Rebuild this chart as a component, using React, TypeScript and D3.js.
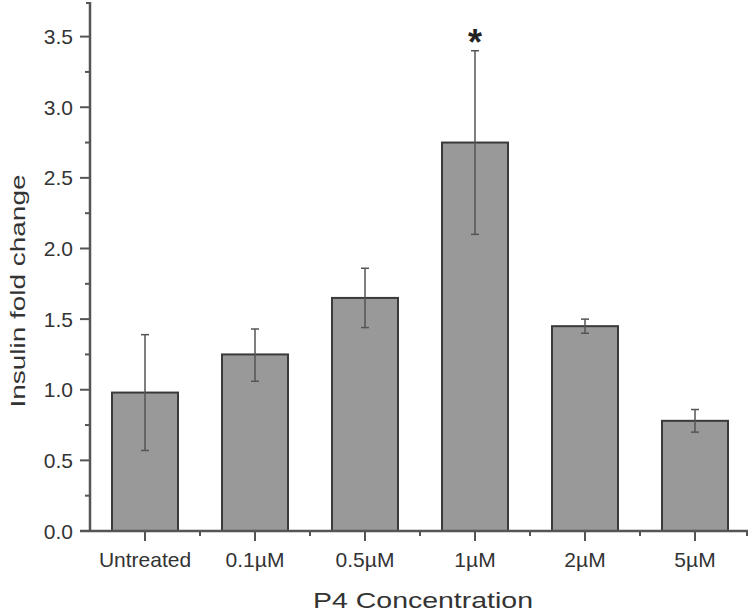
import React from "react";
import * as d3 from "d3";

const categories = ["Untreated", "0.1µM", "0.5µM", "1µM", "2µM", "5µM"];
const means = [0.98, 1.25, 1.65, 2.75, 1.45, 0.78];
const errLow = [0.57, 1.06, 1.44, 2.1, 1.4, 0.7];
const errHigh = [1.39, 1.43, 1.86, 3.4, 1.5, 0.86];
const significant = [false, false, false, true, false, false];
const yTicks = [0, 0.5, 1.0, 1.5, 2.0, 2.5, 3.0, 3.5];
const yMinorTicks = [0.25, 0.75, 1.25, 1.75, 2.25, 2.75, 3.25];

const W = 750;
const H = 612;
const left = 90;
const right = 750;
const top = 2;
const bottom = 531;
const font = "'Liberation Sans', Arial, sans-serif";

export default function App() {
  const x = d3.scaleBand<string>().domain(categories).range([left, right]).paddingInner(0).paddingOuter(0);
  const y = d3.scaleLinear().domain([0, 3.745]).range([bottom, top]);
  const bw = x.bandwidth() * 0.6;
  const axisColor = "#555";
  const textColor = "#333";
  return (
    <svg width={W} height={H} style={{ position: "absolute", left: 0, top: 0, background: "#fff" }}>
      {categories.map((c, i) => {
        const cx = x(c)! + x.bandwidth() / 2;
        return (
          <rect key={c} x={cx - bw / 2} y={y(means[i])} width={bw} height={y(0) - y(means[i])} fill="#999" stroke="#3a3a3a" strokeWidth={2} />
        );
      })}
      {categories.map((c, i) => {
        const cx = x(c)! + x.bandwidth() / 2;
        return (
          <g key={c + "e"} stroke="#555" strokeWidth={1.5}>
            <line x1={cx} x2={cx} y1={y(errLow[i])} y2={y(errHigh[i])} />
            <line x1={cx - 4} x2={cx + 4} y1={y(errLow[i])} y2={y(errLow[i])} />
            <line x1={cx - 4} x2={cx + 4} y1={y(errHigh[i])} y2={y(errHigh[i])} />
            {significant[i] && (
              <text x={cx} y={y(errHigh[i]) + 4} textAnchor="middle" fontFamily={font} fontSize={36} fontWeight="bold" fill="#222" stroke="none">
                *
              </text>
            )}
          </g>
        );
      })}
      <line x1={left} x2={left} y1={top} y2={bottom} stroke={axisColor} strokeWidth={2.5} />
      <line x1={left} x2={left - 4} y1={top + 1} y2={top + 1} stroke={axisColor} strokeWidth={2} />
      {yTicks.map((t) => (
        <g key={"y" + t}>
          <line x1={left - 10} x2={left} y1={y(t)} y2={y(t)} stroke={axisColor} strokeWidth={2} />
          <text x={left - 17} y={y(t) + 7.5} textAnchor="end" fontFamily={font} fontSize={21} fill={textColor}>
            {t.toFixed(1)}
          </text>
        </g>
      ))}
      {yMinorTicks.map((t) => (
        <line key={"ym" + t} x1={left - 5} x2={left} y1={y(t)} y2={y(t)} stroke={axisColor} strokeWidth={2} />
      ))}
      <line x1={left - 10} x2={right - 2} y1={bottom} y2={bottom} stroke={axisColor} strokeWidth={2.5} />
      {categories.map((c) => {
        const cx = x(c)! + x.bandwidth() / 2;
        return (
          <g key={"x" + c}>
            <line x1={cx} x2={cx} y1={bottom} y2={bottom + 10} stroke={axisColor} strokeWidth={2} />
            <text x={cx} y={567} textAnchor="middle" fontFamily={font} fontSize={21} fill={textColor}>
              {c}
            </text>
          </g>
        );
      })}
      {categories.slice(1).map((c) => (
        <line key={"xm" + c} x1={x(c)!} x2={x(c)!} y1={bottom} y2={bottom + 5} stroke={axisColor} strokeWidth={2} />
      ))}
      <line x1={right - 3} x2={right - 3} y1={bottom} y2={bottom + 5} stroke={axisColor} strokeWidth={2} />
      <text x={423} y={608} textAnchor="middle" fontFamily={font} fontSize={22} textLength={220} lengthAdjust="spacingAndGlyphs" fill={textColor}>
        P4 Concentration
      </text>
      <text transform={`translate(25, 291) rotate(-90)`} textAnchor="middle" fontFamily={font} fontSize={21} textLength={233} lengthAdjust="spacingAndGlyphs" fill={textColor}>
        Insulin fold change
      </text>
    </svg>
  );
}
